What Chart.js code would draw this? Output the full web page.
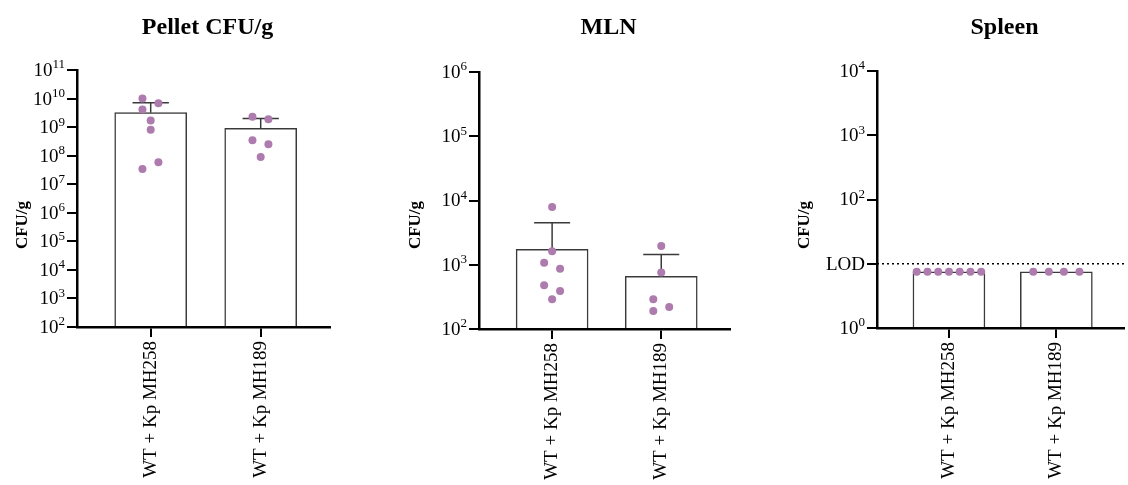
<!DOCTYPE html>
<html>
<head>
<meta charset="utf-8">
<script src="https://cdn.jsdelivr.net/npm/chart.js@4/dist/chart.umd.min.js"></script>
<style>
  html, body { margin: 0; padding: 0; background: #fff; }
  #wrap { position: relative; width: 1128px; height: 485px; overflow: hidden; }
  canvas { position: absolute; top: 0; }
</style>
</head>
<body>
<div id="wrap">
  <canvas id="c1" width="376" height="485" style="left:0px"></canvas>
  <canvas id="c2" width="376" height="485" style="left:376px"></canvas>
  <canvas id="c3" width="376" height="485" style="left:752px"></canvas>
</div>
<script>
// ---------- data ----------
const categories = ['WT + Kp MH258', 'WT + Kp MH189'];

// Pellet CFU/g
const pelletMean = [3.2e9, 9.1e8];
const pelletUpper = [7.2e9, 2.0e9];
const pelletPts258 = [1.0e10, 6.9e9, 4.1e9, 1.7e9, 8.1e8, 5.9e7, 3.4e7];
const pelletJit258 = [-0.075, 0.07, -0.075, 0, 0, 0.07, -0.075];
const pelletPts189 = [2.3e9, 1.9e9, 3.5e8, 2.5e8, 9.0e7];
const pelletJit189 = [-0.075, 0.07, -0.075, 0.07, 0];
const pelletTicks = [1e2, 1e3, 1e4, 1e5, 1e6, 1e7, 1e8, 1e9, 1e10, 1e11];
const pelletTickLabels = ['10^2', '10^3', '10^4', '10^5', '10^6', '10^7', '10^8', '10^9', '10^10', '10^11'];

// MLN
const mlnMean = [1.74e3, 6.6e2];
const mlnUpper = [4.5e3, 1.45e3];
const mlnPts258 = [7.9e3, 1.62e3, 1.07e3, 8.7e2, 4.8e2, 3.9e2, 2.9e2];
const mlnJit258 = [0, 0, -0.073, 0.073, -0.073, 0.073, 0];
const mlnPts189 = [1.95e3, 7.6e2, 2.9e2, 2.2e2, 1.9e2];
const mlnJit189 = [0, 0, -0.073, 0.073, -0.073];
const mlnTicks = [1e2, 1e3, 1e4, 1e5, 1e6];
const mlnTickLabels = ['10^2', '10^3', '10^4', '10^5', '10^6'];

// Spleen
const spleenMean = [7.5, 7.5];
const spleenPts258 = [7.5, 7.5, 7.5, 7.5, 7.5, 7.5, 7.5];
const spleenJit258 = [-0.3, -0.2, -0.1, 0, 0.1, 0.2, 0.3];
const spleenPts189 = [7.5, 7.5, 7.5, 7.5];
const spleenJit189 = [-0.215, -0.07, 0.07, 0.215];
const spleenLOD = 10;
const spleenTicks = [1, 10, 100, 1000, 10000];
const spleenTickLabels = ['10^0', 'LOD', '10^2', '10^3', '10^4'];

// ---------- styling ----------
const SERIF = '"Liberation Serif", "Times New Roman", serif';
const DOT = '#ad7bad';
const BARLINE = '#3a3a3a';
const X_MIN = -0.67, X_MAX = 1.63;
const CAP = 0.165;
const TICKLEN = 10;

const textPlugin = {
  id: 'texts',
  afterDraw(chart, args, opts) {
    const ctx = chart.ctx, ca = chart.chartArea;
    ctx.save();
    ctx.fillStyle = '#000';
    // title
    ctx.font = 'bold 24px ' + SERIF;
    ctx.textAlign = 'center';
    ctx.textBaseline = 'alphabetic';
    ctx.fillText(opts.title, (ca.left + ca.right) / 2 + 4, 34);
    // y tick labels with superscripts, positioned by the y scale
    const ys = chart.scales.y;
    const right = ca.left - TICKLEN - 2;
    ctx.textAlign = 'left';
    ctx.textBaseline = 'middle';
    ys.ticks.forEach((t, i) => {
      const lab = opts.tickLabels[i];
      const y = ys.getPixelForValue(t.value);
      const parts = lab.split('^');
      if (parts.length === 2) {
        ctx.font = '19px ' + SERIF;
        const wb = ctx.measureText(parts[0]).width;
        ctx.font = '13px ' + SERIF;
        const we = ctx.measureText(parts[1]).width;
        ctx.font = '19px ' + SERIF;
        ctx.fillText(parts[0], right - we - wb, y + 1);
        ctx.font = '13px ' + SERIF;
        ctx.fillText(parts[1], right - we, y - 5);
      } else {
        ctx.font = '19px ' + SERIF;
        const w = ctx.measureText(lab).width;
        ctx.fillText(lab, right - w, y + 1);
      }
    });
    // y axis title
    ctx.translate(opts.yTitleX, 225);
    ctx.rotate(-Math.PI / 2);
    ctx.font = 'bold 17px ' + SERIF;
    ctx.textAlign = 'center';
    ctx.textBaseline = 'middle';
    ctx.fillText('CFU/g', 0, 0);
    ctx.restore();
  }
};

function build(id, p) {
  const datasets = [];
  datasets.push({
    type: 'bar',
    data: p.mean.map((v, i) => ({ x: i, y: v })),
    backgroundColor: '#ffffff',
    borderColor: BARLINE,
    borderWidth: 1.5,
    barThickness: 72,
    order: 3
  });
  if (p.upper) {
    p.upper.forEach((u, i) => {
      datasets.push({
        type: 'line', data: [{ x: i, y: p.mean[i] }, { x: i, y: u }],
        borderColor: BARLINE, borderWidth: 1.5, pointRadius: 0, order: 2
      });
      datasets.push({
        type: 'line', data: [{ x: i - CAP, y: u }, { x: i + CAP, y: u }],
        borderColor: BARLINE, borderWidth: 1.5, pointRadius: 0, order: 2
      });
    });
  }
  if (p.lod) {
    datasets.push({
      type: 'line', data: [{ x: X_MIN, y: p.lod }, { x: X_MAX, y: p.lod }],
      borderColor: '#000', borderWidth: 1.5, borderDash: [2, 3], pointRadius: 0, order: 2
    });
  }
  p.pts.forEach((arr, g) => {
    datasets.push({
      type: 'line', showLine: false,
      data: arr.map((v, k) => ({ x: g + p.jit[g][k], y: v })),
      pointRadius: 4, pointHoverRadius: 4, pointBorderWidth: 0,
      pointBackgroundColor: DOT, borderColor: DOT, order: 1
    });
  });

  return new Chart(document.getElementById(id), {
    type: 'bar',
    data: { datasets },
    plugins: [textPlugin],
    options: {
      responsive: false,
      animation: false,
      layout: { padding: { top: p.top, right: p.right, left: 0, bottom: 0 } },
      plugins: {
        legend: { display: false },
        tooltip: { enabled: false },
        texts: { title: p.title, yTitleX: p.yTitleX, tickLabels: p.tickLabels }
      },
      scales: {
        x: {
          type: 'linear', min: X_MIN, max: X_MAX, offset: false,
          afterBuildTicks: s => { s.ticks = categories.map((c, i) => ({ value: i })); },
          afterFit: s => { s.height = 485 - p.top - 257; },
          ticks: {
            callback: (v, i) => categories[i],
            minRotation: 90, maxRotation: 90, autoSkip: false,
            color: '#000', font: { family: SERIF, size: 19 }, padding: 4
          },
          grid: { z: 1, offset: false, drawOnChartArea: false, drawTicks: true, tickLength: TICKLEN, color: '#000', lineWidth: 2 },
          border: { z: 1, color: '#000', width: 2.5 }
        },
        y: {
          type: 'logarithmic', min: p.ticks[0], max: p.ticks[p.ticks.length - 1],
          afterBuildTicks: s => { s.ticks = p.ticks.map(v => ({ value: v, major: true })); },
          afterFit: s => { s.width = p.yWidth; },
          ticks: { display: false },
          grid: { z: 1, drawOnChartArea: false, drawTicks: true, tickLength: TICKLEN, color: '#000', lineWidth: 2 },
          border: { z: 1, color: '#000', width: 2.5 }
        }
      }
    }
  });
}

build('c1', {
  title: 'Pellet CFU/g', mean: pelletMean, upper: pelletUpper,
  pts: [pelletPts258, pelletPts189], jit: [pelletJit258, pelletJit189],
  ticks: pelletTicks, tickLabels: pelletTickLabels,
  top: 70, right: 46, yWidth: 77, yTitleX: 23
});
build('c2', {
  title: 'MLN', mean: mlnMean, upper: mlnUpper,
  pts: [mlnPts258, mlnPts189], jit: [mlnJit258, mlnJit189],
  ticks: mlnTicks, tickLabels: mlnTickLabels,
  top: 72, right: 22, yWidth: 103, yTitleX: 40
});
build('c3', {
  title: 'Spleen', mean: spleenMean, upper: null, lod: spleenLOD,
  pts: [spleenPts258, spleenPts189], jit: [spleenJit258, spleenJit189],
  ticks: spleenTicks, tickLabels: spleenTickLabels,
  top: 71, right: 0, yWidth: 125, yTitleX: 53
});
</script>
</body>
</html>
